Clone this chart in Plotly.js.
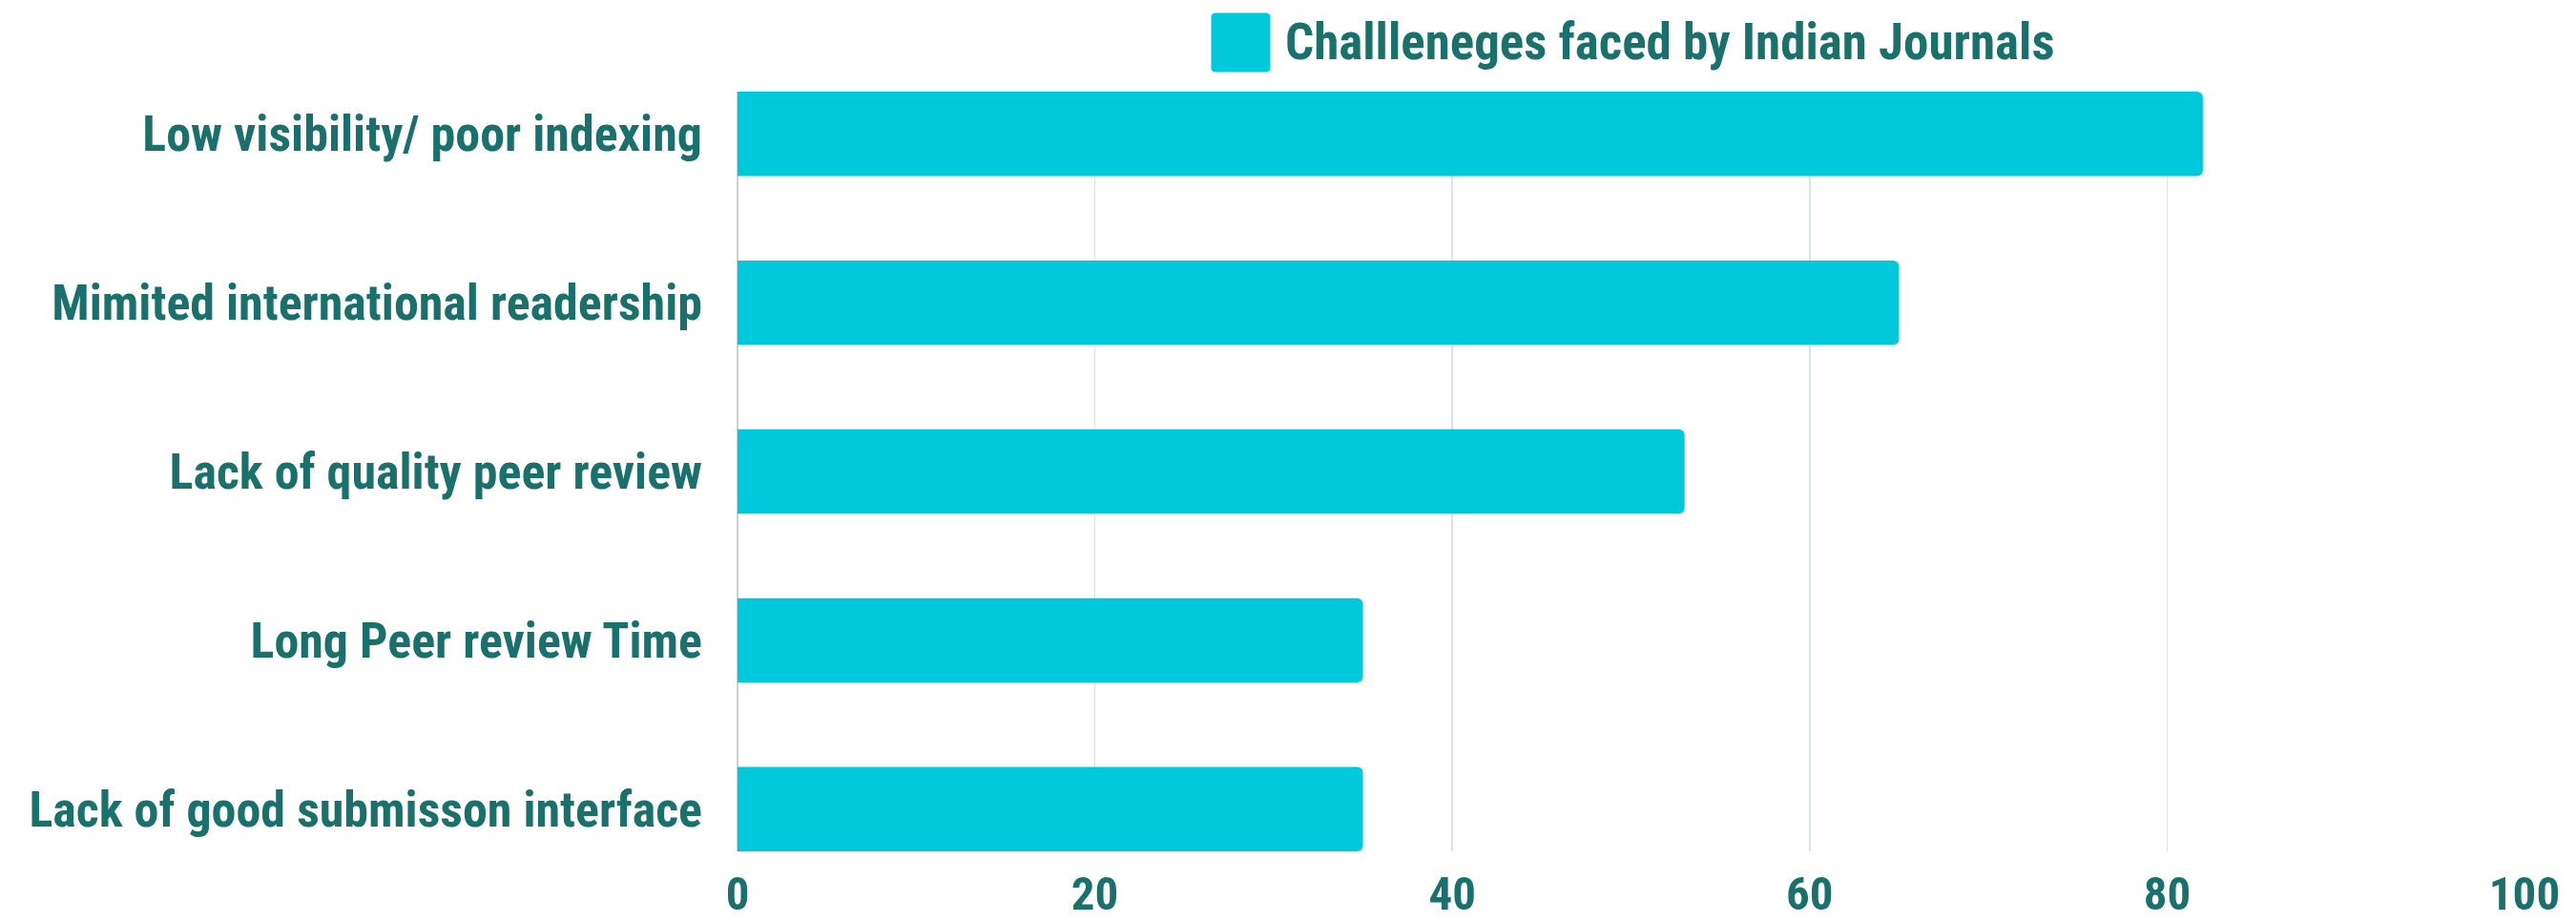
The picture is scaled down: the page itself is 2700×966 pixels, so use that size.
<!DOCTYPE html>
<html>
<head>
<meta charset="utf-8">
<script src="https://cdn.plot.ly/plotly-3.0.1.min.js"></script>
<style>
  html, body { margin: 0; padding: 0; background: #ffffff; }
  #chart { width: 2700px; height: 966px; }
</style>
</head>
<body>
<div id="chart"></div>
<script>
// ---- data ----
const categories = [
  "Low visibility/ poor indexing",
  "Mimited international readership",
  "Lack of quality peer review",
  "Long Peer review Time",
  "Lack of good submisson interface"
];
const values = [82, 65, 53, 35, 35];
const seriesName = "Challleneges faced by Indian Journals";
const xTickValues = [0, 20, 40, 60, 80, 100];
const xTickLabels = ["0", "20", "40", "60", "80", "100"];

// ---- style ----
const BAR = "#00c9db";
const TEXT = "#1a716b";
const FONT = "'Roboto Condensed', 'DejaVu Sans Condensed', Roboto, sans-serif";

const trace = {
  type: "bar",
  orientation: "h",
  y: categories,
  x: values,
  name: seriesName,
  marker: { color: BAR, line: { width: 0 } },
  hoverinfo: "x+y",
  showlegend: false
};

const layout = {
  width: 2700,
  height: 966,
  margin: { l: 773, r: 54, t: 96, b: 74, pad: 0 },
  paper_bgcolor: "#ffffff",
  plot_bgcolor: "#ffffff",
  bargap: 0.5,
  barcornerradius: 6,
  showlegend: false,
  xaxis: {
    range: [0, 100],
    tickvals: xTickValues,
    ticktext: xTickLabels,
    showgrid: true,
    gridcolor: "#d6e5e8",
    gridwidth: 1.5,
    zeroline: true,
    zerolinecolor: "#c6d3d7",
    zerolinewidth: 1.5,
    showline: false,
    ticks: "",
    ticklabelstandoff: 11,
    tickfont: { family: FONT, size: 49, color: TEXT, weight: 700 },
    fixedrange: true
  },
  yaxis: {
    type: "category",
    range: [4.25, -0.25],
    showgrid: false,
    zeroline: false,
    showline: false,
    ticks: "",
    ticklabelstandoff: 36,
    tickfont: { family: FONT, size: 52, color: TEXT, weight: 700 },
    fixedrange: true
  },
  shapes: [{
    type: "path",
    xref: "paper", yref: "paper",
    xsizemode: "pixel", ysizemode: "pixel",
    xanchor: 0.2816, yanchor: 1.0648,
    path: "M-31,-26 Q-31,-31 -26,-31 L26,-31 Q31,-31 31,-26 L31,26 Q31,31 26,31 L-26,31 Q-31,31 -31,26 Z",
    fillcolor: BAR,
    line: { width: 0 }
  }],
  annotations: [{
    xref: "paper", yref: "paper",
    x: 0.3054, y: 1.0648,
    xanchor: "left", yanchor: "middle",
    text: seriesName,
    showarrow: false,
    font: { family: FONT, size: 53, color: TEXT, weight: 700 }
  }]
};

Plotly.newPlot("chart", [trace], layout, { displayModeBar: false, staticPlot: true });
</script>
</body>
</html>
